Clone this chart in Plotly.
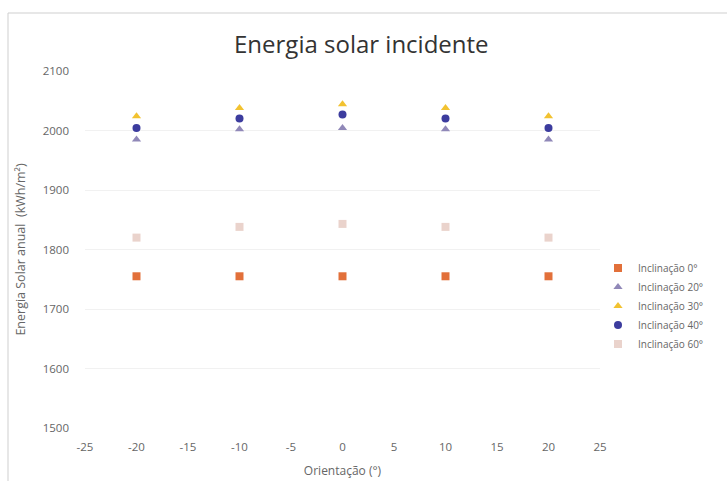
import plotly.graph_objects as go

# Orientation of the panel (degrees from south)
orientacao = [-20, -10, 0, 10, 20]

# Annual incident solar energy (kWh/m²) for each panel tilt
inclinacao_0 = [1755, 1755, 1755, 1755, 1755]
inclinacao_20 = [1985, 2002, 2004, 2002, 1985]
inclinacao_30 = [2024, 2038, 2044, 2038, 2024]
inclinacao_40 = [2004, 2020, 2027, 2020, 2004]
inclinacao_60 = [1820, 1838, 1843, 1838, 1820]

series = [
    ("Inclinação 0°", inclinacao_0, "#E2703A", "square"),
    ("Inclinação 20°", inclinacao_20, "#9088B8", "triangle-up"),
    ("Inclinação 30°", inclinacao_30, "#F2C230", "triangle-up"),
    ("Inclinação 40°", inclinacao_40, "#3C3C9E", "circle"),
    ("Inclinação 60°", inclinacao_60, "#EAD3CC", "square"),
]

x_ticks = [-25, -20, -15, -10, -5, 0, 5, 10, 15, 20, 25]
y_ticks = [1500, 1600, 1700, 1800, 1900, 2000, 2100]

font_family = "Open Sans, Lato, Liberation Sans, sans-serif"
grey = "#666666"

fig = go.Figure()
for name, values, color, symbol in series:
    fig.add_trace(go.Scatter(
        x=orientacao, y=values, mode="markers", name=name,
        marker=dict(color=color, symbol=symbol, size=8,
                    line=dict(width=0)),
    ))

fig.update_layout(
    width=727, height=481, autosize=False,
    margin=dict(l=85, r=127, t=71, b=53),
    paper_bgcolor="white", plot_bgcolor="white",
    font=dict(family=font_family, color=grey, size=11),
    title=dict(
        text="Energia solar incidente",
        x=0.497, xref="container", xanchor="center",
        y=1 - 45 / 481, yref="container", yanchor="middle",
        font=dict(size=24, color="#333333", family=font_family),
    ),
    xaxis=dict(
        range=[-25, 25], tickvals=x_ticks,
        ticktext=[str(v) for v in x_ticks],
        showgrid=False, zeroline=False, showline=False,
        ticks="", tickfont=dict(size=11.5, color=grey),
        ticklabelstandoff=10, automargin=False,
        title=dict(text="Orientação (°)", standoff=14,
                   font=dict(size=12, color=grey)),
    ),
    yaxis=dict(
        range=[1500, 2100], tickvals=y_ticks,
        showgrid=True, gridcolor="#F1F1F1", gridwidth=1,
        zeroline=False, showline=False, ticks="",
        tickfont=dict(size=11.5, color=grey),
        ticklabelstandoff=15, automargin=False,
        title=dict(text="Energia Solar anual  (kWh/m²)", standoff=14,
                   font=dict(size=12.5, color=grey)),
    ),
    legend=dict(
        x=(598 - 85) / 515, xanchor="left", y=0.342, yanchor="middle",
        font=dict(size=10, color=grey), bgcolor="rgba(0,0,0,0)",
        itemwidth=30, tracegroupgap=0,
    ),
    showlegend=True,
)

# Chart-area frame along the top and left edges
fig.add_shape(type="line", xref="paper", yref="paper",
              x0=(8 - 85) / 515, x1=(727 - 85) / 515,
              y0=(428 - 13) / 357, y1=(428 - 13) / 357,
              line=dict(color="#CFCFCF", width=1))
fig.add_shape(type="line", xref="paper", yref="paper",
              x0=(8 - 85) / 515, x1=(8 - 85) / 515,
              y0=(428 - 13) / 357, y1=(428 - 481) / 357,
              line=dict(color="#CFCFCF", width=1))

fig.write_html("out.html")
